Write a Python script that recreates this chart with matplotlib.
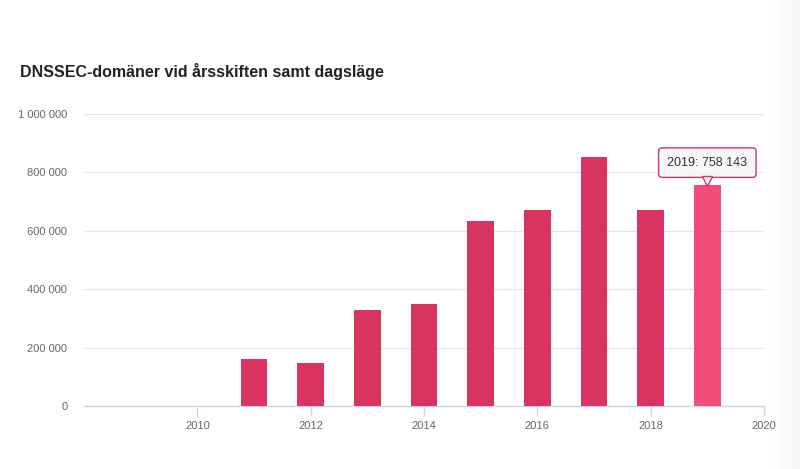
import matplotlib
matplotlib.use("Agg")
import matplotlib.pyplot as plt
import matplotlib.transforms as mtransforms
import numpy as np
from matplotlib.ticker import FuncFormatter

years = [2011, 2012, 2013, 2014, 2015, 2016, 2017, 2018, 2019]
values = [161000, 147000, 329000, 349000, 634000, 671000, 853000, 671000, 758143]
x_ticks = [2010, 2012, 2014, 2016, 2018, 2020]
y_ticks = [0, 200000, 400000, 600000, 800000, 1000000]
title = "DNSSEC-domäner vid årsskiften samt dagsläge"

plt.rcParams['font.family'] = ['Liberation Sans', 'DejaVu Sans']

fig = plt.figure(figsize=(8, 4.69), dpi=100)

# faint shadow gradient at right edge (behind everything)
gax = fig.add_axes([770/800, 0, 30/800, 1], zorder=-1)
grad = np.linspace(1.0, 0.965, 50).reshape(1, -1)
gax.imshow(np.dstack([grad, grad, grad]), aspect='auto', extent=[0, 1, 0, 1])
gax.axis('off')

ax = fig.add_axes([84/800, 1-406/469, (764-84)/800, (406-114)/469], zorder=1)
ax.patch.set_alpha(0)

colors = ['#d93362'] * (len(years) - 1) + ['#f24c7c']
ax.bar(years, values, width=0.47, color=colors, zorder=3)

ax.set_xlim(2008, 2020)
ax.set_ylim(0, 1000000)
ax.set_xticks(x_ticks)
ax.set_yticks(y_ticks)
ax.yaxis.set_major_formatter(FuncFormatter(lambda v, p: f"{int(v):,}".replace(",", " ")))
ax.grid(axis='y', color='#e6e6e6', linewidth=1, zorder=0)
for s in ['top', 'right', 'left']:
    ax.spines[s].set_visible(False)
ax.spines['bottom'].set_color('#ccd6eb')
ax.spines['bottom'].set_linewidth(1)
ax.tick_params(axis='x', colors='#ccd6eb', length=7, width=1, labelcolor='#666666', labelsize=8, pad=4)
ax.tick_params(axis='y', length=0, labelcolor='#666666', labelsize=8, pad=12)

fig.text(20/800, 1-72/469, title, fontsize=11.5, fontweight='bold', color='#222222', va='center', ha='left')

# tooltip for hovered point
ax.annotate(f"{years[-1]}: {values[-1]:,}".replace(",", " "), xy=(years[-1], values[-1]),
            xytext=(0, 22), textcoords='offset pixels', ha='center', va='center',
            fontsize=9, color='#333333', zorder=6,
            bbox=dict(boxstyle='round,pad=0.7,rounding_size=0.25', fc='#f7f7f7', ec='#d93362', lw=1),
            annotation_clip=False)
ptr = mtransforms.offset_copy(ax.transData, fig=fig, x=0, y=4, units='dots')
ax.plot([years[-1]], [values[-1]], marker='v', markersize=7, markerfacecolor='#f7f7f7',
        markeredgecolor='#d93362', markeredgewidth=1, transform=ptr, zorder=7, clip_on=False)

fig.savefig("out.png", dpi=100)
